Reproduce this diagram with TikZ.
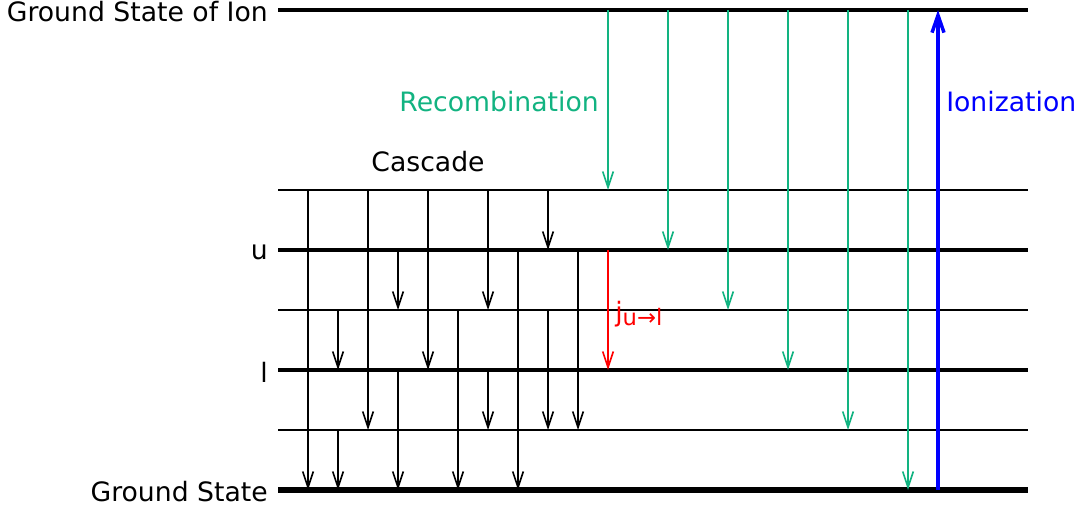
\documentclass[tikz,border=0pt]{standalone}
\usepackage{fontspec}
\setmainfont{DejaVu Sans}
\usepackage{tikz}
\usetikzlibrary{arrows.meta,positioning}
\definecolor{recgreen}{HTML}{12B381}
\definecolor{ionblue}{HTML}{0000FF}
\definecolor{linered}{HTML}{FF0000}

\begin{document}
\begin{tikzpicture}[
  x=0.75pt, y=-0.75pt,
  every node/.style={font=\fontsize{20pt}{24pt}\selectfont, inner sep=0pt},
  thinlvl/.style={line width=1pt, draw=black},
  boldlvl/.style={line width=2.6pt, draw=black},
  baselvl/.style={line width=3.4pt, draw=black},
  lvltext/.style={anchor=east, xshift=-7.5pt, yshift=-1.5pt},
  cascade/.style={-{Straight Barb[length=12pt,width=8pt]}, line width=1.2pt, draw=black},
  recomb/.style={-{Straight Barb[length=12pt,width=8pt]}, line width=1.2pt, draw=recgreen},
  transition/.style={-{Straight Barb[length=12pt,width=8pt]}, line width=1.2pt, draw=linered},
  ionize/.style={-{Straight Barb[length=13pt,width=9pt]}, line width=2.6pt, draw=ionblue}
]
\useasboundingbox (0,0) rectangle (1080,510);
% levels
\coordinate (lion) at (278,10);
\coordinate (lA) at (278,190);
\coordinate (lu) at (278,250);
\coordinate (lB) at (278,310);
\coordinate (ll) at (278,370);
\coordinate (lC) at (278,430);
\coordinate (lgs) at (278,490);
\foreach \i in {0,...,21}
  \coordinate (c\i) at (308+30*\i,0);
\draw[baselvl] (lion) -- ++(750,0);
\draw[thinlvl] (lA) -- ++(750,0);
\draw[boldlvl] (lu) -- ++(750,0);
\draw[thinlvl] (lB) -- ++(750,0);
\draw[boldlvl] (ll) -- ++(750,0);
\draw[thinlvl] (lC) -- ++(750,0);
\draw[baselvl, line width=3.8pt] (lgs) -- ++(750,0);
\node[lvltext] (tion) at (lion) {Ground State of Ion};
\node[lvltext] (tu) at (lu) {u};
\node[lvltext] (tl) at (ll) {l};
\node[lvltext] (tgs) at (lgs) {Ground State};
% cascade
\foreach \c/\a/\b in {0/lA/lgs, 1/lB/ll, 1/lC/lgs, 2/lA/lC, 3/lu/lB, 3/ll/lgs,
    4/lA/ll, 5/lB/lgs, 6/lA/lB, 6/ll/lC, 7/lu/lgs, 8/lA/lu, 8/lB/lC, 9/lu/lC}
  \draw[cascade] (c\c |- \a) -- (c\c |- \b);
\node (tcas) at (428,162) {Cascade};
% u -> l
\draw[transition] (c10 |- lu) -- (c10 |- ll);
\node[anchor=west, text=linered] (tjul) at (615,314)
  {j\raisebox{-0.3ex}{\fontsize{17pt}{19pt}\selectfont u→l}};
% recombination
\foreach \c/\b in {10/lA, 12/lu, 14/lB, 16/ll, 18/lC, 20/lgs}
  \draw[recomb] (c\c |- lion) -- (c\c |- \b);
\node[anchor=east, text=recgreen] (trec) at (599,102) {Recombination};
% ionization
\draw[ionize] (c21 |- lgs) -- (c21 |- lion);
\node[anchor=west, text=ionblue] (tion2) at (946,102) {Ionization};
\end{tikzpicture}
\end{document}
